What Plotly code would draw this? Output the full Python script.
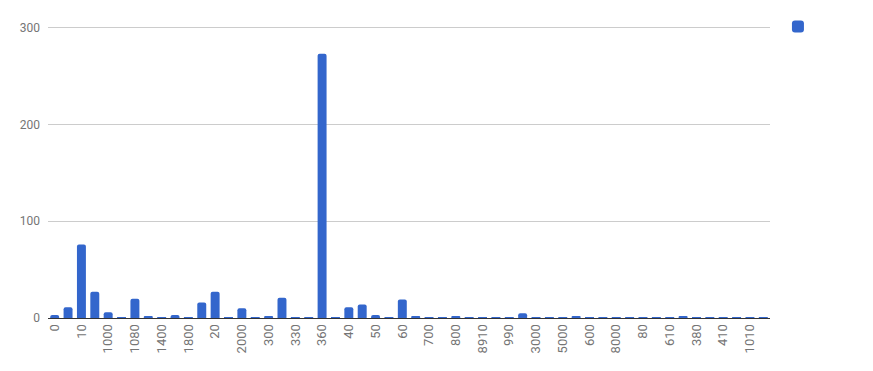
import plotly.graph_objects as go

categories = ["0", "1", "10", "100", "1000", "1050", "1080", "1200", "1400", "1500",
              "1800", "2", "20", "200", "2000", "250", "300", "3", "330", "350",
              "360", "4", "40", "5", "50", "6", "60", "7", "700", "8",
              "800", "890", "8910", "9", "990", "2500", "3000", "4000", "5000", "500",
              "600", "7000", "8000", "90", "80", "70", "610", "320", "380", "390",
              "410", "420", "1010", "1020"]
values = [3, 11, 76, 27, 6, 1, 20, 2, 1, 3,
          1, 16, 27, 1, 10, 1, 2, 21, 1, 1,
          273, 1, 11, 14, 3, 1, 19, 2, 1, 1,
          2, 1, 1, 1, 1, 5, 1, 1, 1, 2,
          1, 1, 1, 1, 1, 1, 1, 2, 1, 1,
          1, 1, 1, 1]
shown_ticks = categories[::2]
y_ticks = [0, 100, 200, 300]

fig = go.Figure(go.Bar(
    x=categories, y=values, name="",
    marker=dict(color="#3366CC", cornerradius=2, line=dict(width=0)),
    showlegend=True,
))

fig.update_layout(
    width=873, height=371,
    margin=dict(l=48, r=103, t=16, b=53),
    paper_bgcolor="white", plot_bgcolor="white",
    font=dict(family="Roboto, Arial, sans-serif", size=12, color="#757575"),
    bargap=0.33,
    showlegend=True,
    legend=dict(x=1.011, xanchor="left", y=1.02, yanchor="top",
                xref="paper", yref="paper", font=dict(size=12),
                itemwidth=30, tracegroupgap=0),
    xaxis=dict(type="category", tickmode="array", tickvals=shown_ticks,
               ticktext=shown_ticks, tickangle=-90, showgrid=False,
               showline=True, linecolor="#333333", linewidth=1,
               ticks="", tickfont=dict(size=13, color="#757575")),
    yaxis=dict(range=[0, 310], tickvals=y_ticks, showgrid=True,
               gridcolor="#cccccc", gridwidth=1, zeroline=False,
               ticks="", ticklabelstandoff=7,
               tickfont=dict(size=12, color="#757575")),
)

fig.write_html("out.html")
